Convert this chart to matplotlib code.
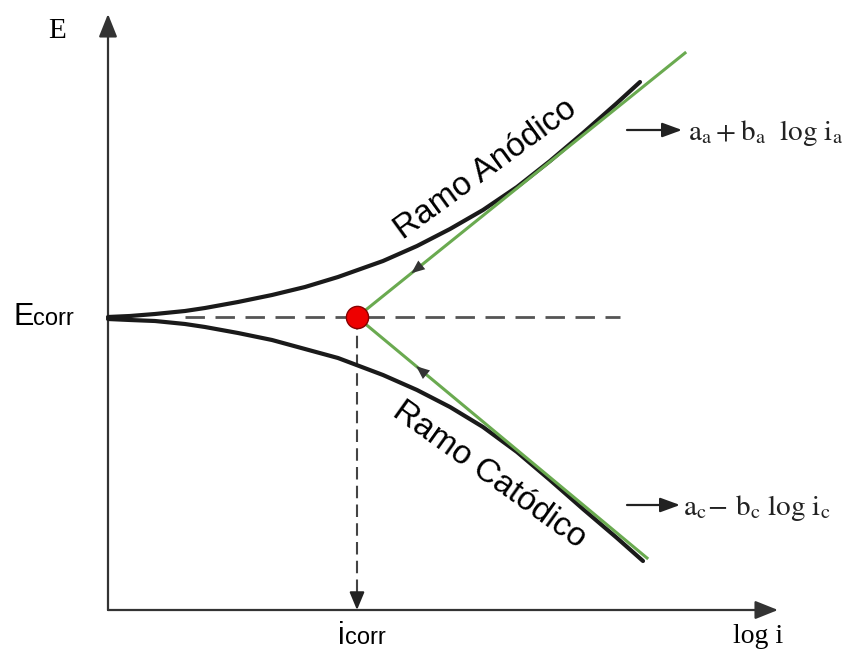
import numpy as np
import matplotlib.pyplot as plt

plt.rcParams['mathtext.fontset'] = 'stix'

# polarization curves (x = log i, y = E), origin at the axes corner
anodic_logi = [0, 22, 47, 77, 97, 130, 164, 197, 230, 275, 309, 342, 375, 409, 442, 475, 509, 532]
anodic_E = [293, 294, 296, 299, 302, 308, 315, 323, 333, 349, 364, 381, 400, 423, 449, 477, 507, 528]
cathodic_logi = [0, 22, 47, 77, 97, 130, 164, 197, 230, 275, 309, 342, 375, 409, 442, 475, 509, 535]
cathodic_E = [291, 290, 289, 286, 283, 277, 270, 261, 252, 235, 220, 203, 183, 158, 130, 101, 72, 49]

# corrosion point and Tafel extrapolation ends
i_corr = 249
E_corr = 293
tafel_a_end = (577, 557)
tafel_c_end = (539, 52)

fig = plt.figure(figsize=(8.59, 6.51), dpi=100)
ax = fig.add_axes([0, 0, 1, 1])
ax.set_xlim(-108, 751)
ax.set_ylim(-41, 610)
ax.axis('off')

axis_col = '#333333'
arrow_kw = dict(arrowstyle='-|>,head_length=0.7,head_width=0.28', color=axis_col,
                lw=1.6, shrinkA=0, shrinkB=0, mutation_scale=20)
# axes with arrow tips
ax.annotate('', xy=(0, 596), xytext=(0, 0), arrowprops=arrow_kw)
ax.annotate('', xy=(670, 0), xytext=(0, 0), arrowprops=arrow_kw)

# E_corr and i_corr guides
ax.plot([77, 512], [E_corr, E_corr], color='#555555', lw=2,
        linestyle=(0, (7, 3.8)), zorder=2)
ax.plot([i_corr, i_corr], [E_corr, 14], color='#444444', lw=1.5,
        linestyle=(0, (6, 3)), zorder=2)
ax.annotate('', xy=(i_corr, 0), xytext=(i_corr, 16),
            arrowprops=dict(arrowstyle='-|>,head_length=0.6,head_width=0.25',
                            color='#222222', lw=1.5, shrinkA=0, shrinkB=0,
                            mutation_scale=18))

# branches
for xs, ys in [(anodic_logi, anodic_E), (cathodic_logi, cathodic_E)]:
    ax.plot(xs, ys, color='#1a1a1a', lw=3, solid_capstyle='round',
            solid_joinstyle='round', zorder=3)

# Tafel lines
green = '#6aaa50'
ax.plot([i_corr, tafel_a_end[0]], [E_corr, tafel_a_end[1]], color=green, lw=2.2, zorder=4)
ax.plot([i_corr, tafel_c_end[0]], [E_corr, tafel_c_end[1]], color=green, lw=2.2, zorder=4)

# small direction marks on the Tafel lines
for end, t in [(tafel_a_end, 0.18), (tafel_c_end, 0.22)]:
    d = np.array(end) - np.array([i_corr, E_corr])
    d = d / np.hypot(*d)
    p = np.array([i_corr, E_corr]) + t * (np.array(end) - np.array([i_corr, E_corr]))
    ax.annotate('', xy=p - 6 * d, xytext=p + 6 * d,
                arrowprops=dict(arrowstyle='-|>,head_length=0.6,head_width=0.25',
                                color='#333333', lw=0, shrinkA=0, shrinkB=0,
                                mutation_scale=16), zorder=5)

ax.plot([i_corr], [E_corr], 'o', color='#ee0000', markersize=16,
        markeredgecolor='#880000', markeredgewidth=1, zorder=6)

# labels
serif = 'Liberation Serif'
sans = 'Liberation Sans'
ax.text(-51, 579, 'E', fontsize=21, family=serif, ha='center', va='center')
ax.text(625, -33, 'log i', fontsize=20, family=serif, ha='left', va='baseline')
ax.text(-95, 285, 'E', fontsize=22, family=sans, ha='left', va='baseline')
ax.text(-75, 285, 'corr', fontsize=17, family=sans, ha='left', va='baseline')
ax.text(230, -34, 'i', fontsize=22, family=sans, ha='left', va='baseline')
ax.text(237, -34, 'corr', fontsize=17, family=sans, ha='left', va='baseline')

ax.text(378, 441, 'Ramo Anódico', fontsize=24, family=sans, rotation=36,
        ha='center', va='center', rotation_mode='anchor')
ax.text(381, 135, 'Ramo Catódico', fontsize=24, family=sans, rotation=-35.6,
        ha='center', va='center', rotation_mode='anchor')

eq_arrow = dict(arrowstyle='-|>,head_length=0.6,head_width=0.22', color='#222222',
                lw=1.6, shrinkA=0, shrinkB=0, mutation_scale=20)
ax.annotate('', xy=(574, 480), xytext=(519, 480), arrowprops=eq_arrow)
ax.annotate('', xy=(572, 105), xytext=(519, 105), arrowprops=eq_arrow)
ax.text(580, 470, r'$\mathrm{a_a + b_a\ \ log\ i_a}$', fontsize=21,
        ha='left', va='baseline', color='#222222')
ax.text(575, 95, r'$\mathrm{a_c\!-\,b_c\ log\ i_c}$', fontsize=21,
        ha='left', va='baseline', color='#222222')

fig.savefig('out.png', dpi=100)
